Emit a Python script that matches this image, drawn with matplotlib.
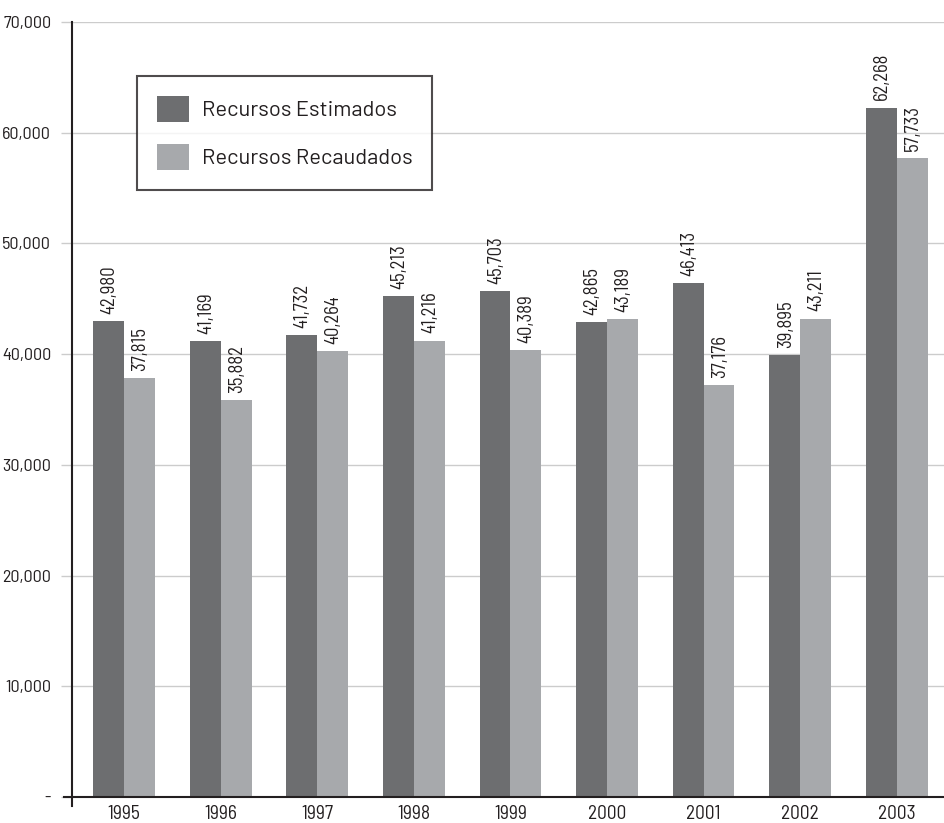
import matplotlib
matplotlib.use("Agg")
import matplotlib.pyplot as plt
import numpy as np
from matplotlib.patches import Patch
from matplotlib.ticker import FuncFormatter

years = ["1995", "1996", "1997", "1998", "1999", "2000", "2001", "2002", "2003"]
estimados = [42980, 41169, 41732, 45213, 45703, 42865, 46413, 39895, 62268]
recaudados = [37815, 35882, 40264, 41216, 40389, 43189, 37176, 43211, 57733]
labels_series = ["Recursos Estimados", "Recursos Recaudados"]
yticks = [0, 10000, 20000, 30000, 40000, 50000, 60000, 70000]

COND = ['Barlow Semi Condensed', 'DejaVu Sans']
plt.rcParams['font.family'] = COND
plt.rcParams['text.color'] = '#231f20'
plt.rcParams['xtick.labelcolor'] = '#231f20'
plt.rcParams['ytick.labelcolor'] = '#231f20'

c_dark = "#6d6e70"
c_light = "#a7a9ac"

fig = plt.figure(figsize=(9.45, 8.23), dpi=100)
ax = fig.add_axes([72/945, 1-797/823, 1-72/945, (797-22)/823])

x = np.arange(len(years))
w = 0.32
b1 = ax.bar(x - w/2, estimados, w, color=c_dark, zorder=2)
b2 = ax.bar(x + w/2, recaudados, w, color=c_light, zorder=2)

for bars, vals in ((b1, estimados), (b2, recaudados)):
    for rect, v in zip(bars, vals):
        ax.text(rect.get_x() + rect.get_width()/2 + 0.01, v + 650, f"{v:,}",
                rotation=90, ha='center', va='bottom', fontsize=13.5)

ax.set_xlim(-0.54, 8.5)
ax.set_ylim(0, 70000)
ax.set_yticks(yticks)
ax.yaxis.set_major_formatter(FuncFormatter(lambda v, p: "-" if v == 0 else f"{int(v):,}"))
ax.set_xticks(x)
ax.set_xticklabels(years)
ax.grid(axis='y', color='#cccccc', linewidth=1, zorder=0)
ax.set_axisbelow(True)
for s in ['top', 'right']:
    ax.spines[s].set_visible(False)
ax.spines['left'].set_linewidth(1.5)
ax.spines['bottom'].set_linewidth(1.5)
ax.spines['left'].set_color('#231f20')
ax.spines['bottom'].set_color('#231f20')
ax.spines['left'].set_bounds(-800, 70000)
ax.spines['bottom'].set_bounds(-0.62, 8.5)
ax.tick_params(axis='y', length=8, width=1, color='#cccccc', labelsize=13, pad=7)
ax.tick_params(axis='x', length=0, labelsize=14, pad=6)

handles = [Patch(facecolor=c_dark), Patch(facecolor=c_light)]
leg = fig.legend(handles, labels_series, loc='upper left',
                 bbox_to_anchor=(137/945, 1-76/823),
                 prop={'family': ['Barlow', 'DejaVu Sans'], 'size': 15.8},
                 frameon=True, fancybox=False, edgecolor='#231f20',
                 handlelength=1.45, handleheight=1.45, borderpad=0.9,
                 labelspacing=1.0, handletextpad=0.6, borderaxespad=0)
leg.get_frame().set_linewidth(1.5)

fig.savefig("out.png", dpi=100)
